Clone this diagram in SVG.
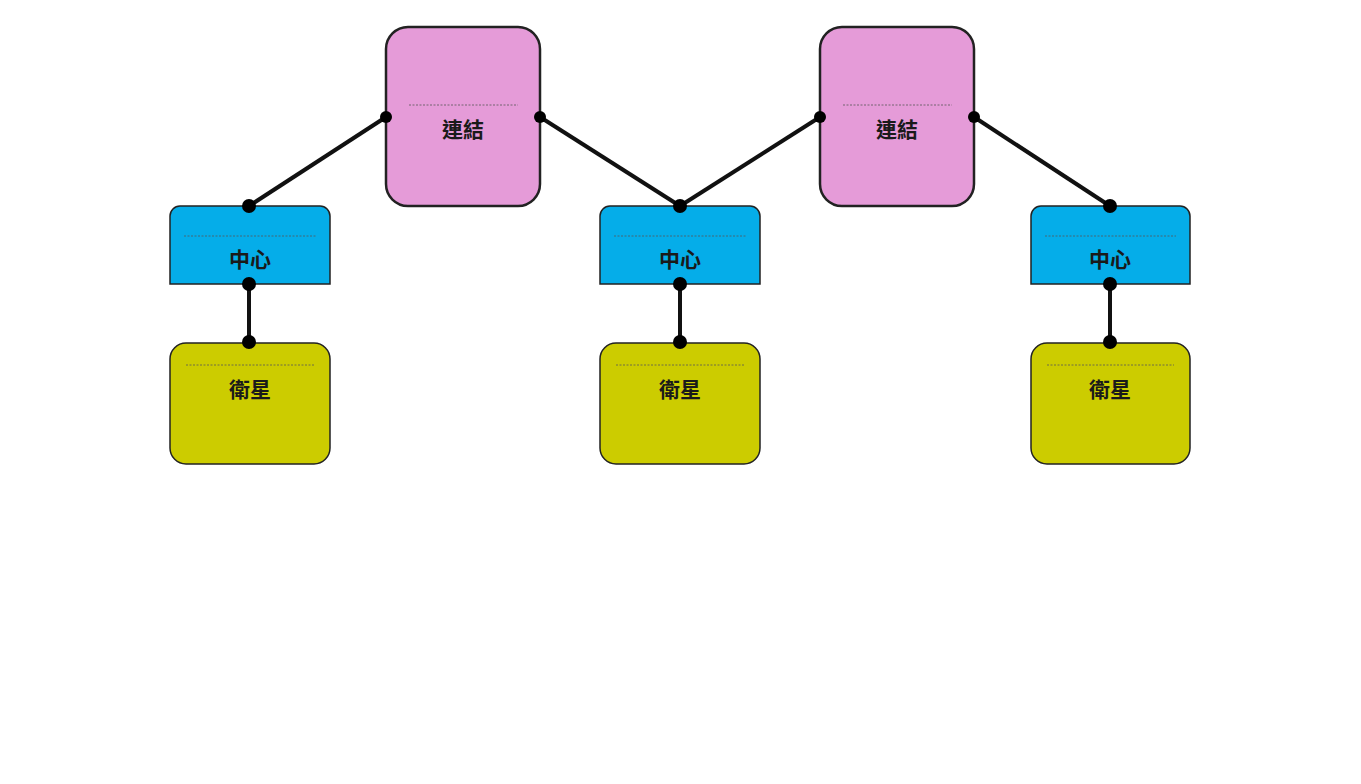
<svg xmlns="http://www.w3.org/2000/svg" width="1361" height="784" viewBox="0 0 1361 784">
<style>
.pk{fill:#e59bd8;stroke:#222;stroke-width:2.5}
.bl{fill:#05ade9;stroke:#222;stroke-width:1.5}
.yl{fill:#cccc00;stroke:#222;stroke-width:1.5}
.ds{stroke:#555;stroke-width:0.8;stroke-dasharray:2 1.5}
.t{font-family:"Noto Sans CJK TC","Noto Sans CJK JP",sans-serif;font-size:21px;font-weight:bold;fill:#1a1a1a;text-anchor:middle}
.c{stroke:#111;stroke-width:4;fill:none}
.d{fill:#000}
</style>
<rect width="1361" height="784" fill="#fff"/>
<g id="link1"><rect class="pk" x="386" y="27" width="154" height="179" rx="22"/><line class="ds" x1="409" y1="105" x2="518" y2="105"/><text class="t" x="463" y="137">連結</text></g>
<g id="link2"><rect class="pk" x="820" y="27" width="154" height="179" rx="22"/><line class="ds" x1="843" y1="105" x2="952" y2="105"/><text class="t" x="897" y="137">連結</text></g>
<g id="hub1"><path class="bl" d="M170 284V216a10 10 0 0 1 10-10H320a10 10 0 0 1 10 10V284Z"/><line class="ds" x1="184" y1="236" x2="316" y2="236"/><text class="t" x="250" y="267">中心</text></g>
<g id="hub2"><path class="bl" d="M600 284V216a10 10 0 0 1 10-10H750a10 10 0 0 1 10 10V284Z"/><line class="ds" x1="614" y1="236" x2="746" y2="236"/><text class="t" x="680" y="267">中心</text></g>
<g id="hub3"><path class="bl" d="M1031 284V216a10 10 0 0 1 10-10H1180a10 10 0 0 1 10 10V284Z"/><line class="ds" x1="1045" y1="236" x2="1176" y2="236"/><text class="t" x="1110" y="267">中心</text></g>
<g id="sat1"><rect class="yl" x="170" y="343" width="160" height="121" rx="16"/><line class="ds" x1="186" y1="365" x2="314" y2="365"/><text class="t" x="250" y="397">衛星</text></g>
<g id="sat2"><rect class="yl" x="600" y="343" width="160" height="121" rx="16"/><line class="ds" x1="616" y1="365" x2="744" y2="365"/><text class="t" x="680" y="397">衛星</text></g>
<g id="sat3"><rect class="yl" x="1031" y="343" width="159" height="121" rx="16"/><line class="ds" x1="1047" y1="365" x2="1174" y2="365"/><text class="t" x="1110" y="397">衛星</text></g>
<g id="connectors">
<line class="c" x1="386" y1="117" x2="249" y2="206"/>
<line class="c" x1="540" y1="117" x2="680" y2="206"/>
<line class="c" x1="820" y1="117" x2="680" y2="206"/>
<line class="c" x1="974" y1="117" x2="1110" y2="206"/>
<line class="c" x1="249" y1="284" x2="249" y2="342"/>
<line class="c" x1="680" y1="284" x2="680" y2="342"/>
<line class="c" x1="1110" y1="284" x2="1110" y2="342"/>
<g class="d">
<circle cx="386" cy="117" r="6"/><circle cx="249" cy="206" r="7"/>
<circle cx="540" cy="117" r="6"/><circle cx="680" cy="206" r="7"/>
<circle cx="820" cy="117" r="6"/><circle cx="974" cy="117" r="6"/><circle cx="1110" cy="206" r="7"/>
<circle cx="249" cy="284" r="7"/><circle cx="249" cy="342" r="7"/>
<circle cx="680" cy="284" r="7"/><circle cx="680" cy="342" r="7"/>
<circle cx="1110" cy="284" r="7"/><circle cx="1110" cy="342" r="7"/>
</g>
</g>
</svg>
